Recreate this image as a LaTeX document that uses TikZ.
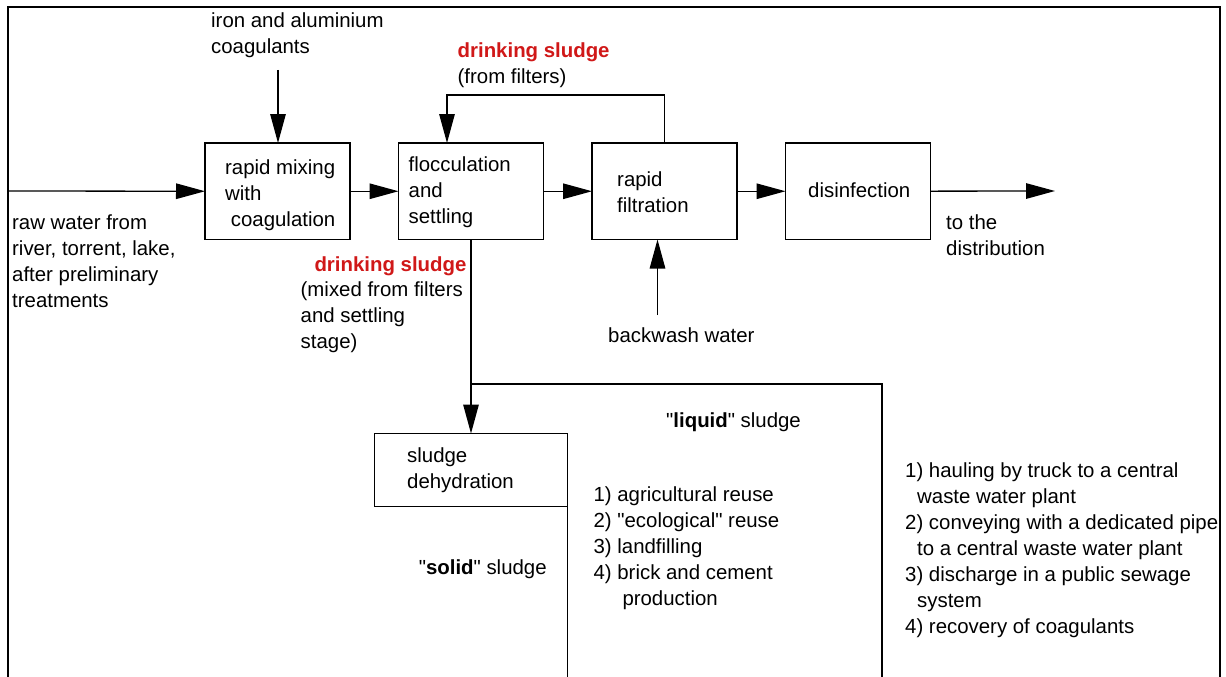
\documentclass[tikz,border=0pt]{standalone}
\usepackage{fontspec}
\setmainfont{Liberation Sans}
\usepackage{tikz}
\usetikzlibrary{arrows.meta,positioning}

\definecolor{sludgered}{RGB}{208,24,24}

\begin{document}
\begin{tikzpicture}[
    x=1pt, y=-1pt,
    every node/.style={font=\fontsize{20.4}{26}\selectfont},
    box/.style={
        draw,
        line width=1.3pt,
        inner sep=0pt,
        outer sep=0pt,
        minimum width=145pt,
        minimum height=96.5pt
    },
    lbl/.style={
        inner sep=0pt,
        anchor=north west,
        align=left
    },
    conn/.style={line width=1.3pt},
    arr/.style={-{Triangle[length=29pt, width=15.5pt]}, line width=1.3pt},
    frame/.style={line width=2.6pt}
]
    \useasboundingbox (0,0) rectangle (1226,677);
    %% Rahmen
    \draw[frame] (8,677) -- (8,7) -- (1220,7) -- (1220,677);

    %% Aufbereitungsstufen
    \node[box, anchor=north west] (mix) at (205,143) {};
    \node[box, right=48.5pt of mix] (flocc) {};
    \node[box, right=48.5pt of flocc] (filtr) {};
    \node[box, right=48.5pt of filtr] (disinf) {};
    \node[box, below=194pt of flocc, minimum width=193.5pt, minimum height=73pt] (dehyd) {};

    %% Texte in den Kaesten
    \node[lbl] (mixtxt) at (225,160) {rapid mixing\\with\\\hspace*{5.7pt}coagulation};
    \node[lbl] (flocctxt) at (408.5,157) {flocculation\\and\\settling};
    \node[lbl] (filtrtxt) at (617,172) {rapid\\filtration};
    \node[lbl] (disinftxt) at (808,183) {disinfection};
    \node[lbl] (dehydtxt) at (407,448) {sludge\\dehydration};

    %% Beschriftungen
    \node[lbl] (coag) at (211,13) {iron and aluminium\\coagulants};
    \node[lbl] (fromfilt) at (457.5,43) {\textcolor{sludgered}{\textbf{drinking sludge}}\\(from filters)};
    \node[lbl] (raw) at (12,215) {raw water from\\river, torrent, lake,\\after preliminary\\treatments};
    \node[lbl] (dist) at (946,215) {to the\\distribution};
    \node[lbl] (backwash) at (608,328) {backwash water};
    \node[lbl, anchor=north east, text=sludgered] (mixedred) at (466.6,257) {\textbf{drinking sludge}};
    \node[lbl] (mixed) at (300.5,282) {(mixed from filters\\and settling\\stage)};
    \node[lbl] (liquid) at (666,413) {\textquotedbl\textbf{liquid}\textquotedbl{} sludge};
    \node[lbl] (solid) at (418.6,560) {\textquotedbl\textbf{solid}\textquotedbl{} sludge};
    \node[lbl] (solidlist) at (593.4,487) {1) agricultural reuse\\2) \textquotedbl ecological\textquotedbl{} reuse\\3) landfilling\\4) brick and cement\\\hspace*{28.9pt}production};
    \node[lbl] (liquidlist) at (905,463) {1) hauling by truck to a central\\\hspace*{12pt}waste water plant\\2) conveying with a dedicated pipe\\\hspace*{12pt}to a central waste water plant\\3) discharge in a public sewage\\\hspace*{12pt}system\\4) recovery of coagulants};

    %% Hilfspunkte
    \coordinate (rawin) at (8,191);
    \coordinate (coagin) at (278,70);
    \coordinate (fbturn) at (447,95);
    \coordinate (distout) at (1055,191);
    \coordinate (bwin) at (657.5,315);
    \coordinate (split) at (471,384);
    \coordinate (liqend) at (882,677);

    %% Pfeile
    \draw[arr] (rawin) -- (mix.west);
    \draw[arr] (coagin) -- (coagin |- mix.north);
    \draw[arr] (mix) -- (flocc);
    \draw[arr] (flocc) -- (filtr);
    \draw[arr] (filtr) -- (disinf);
    \draw[arr] (disinf) -- (distout);
    \draw[arr] (filtr.north) |- (fbturn) -- (fbturn |- flocc.north);
    \draw[arr] (bwin) -- (bwin |- filtr.south);
    \draw[arr] (flocc.south) -- (dehyd.north);
    \draw[conn] (split) -| (liqend);
    \draw[conn] (dehyd.south east) -- (dehyd.south east |- liqend);
\end{tikzpicture}
\end{document}
